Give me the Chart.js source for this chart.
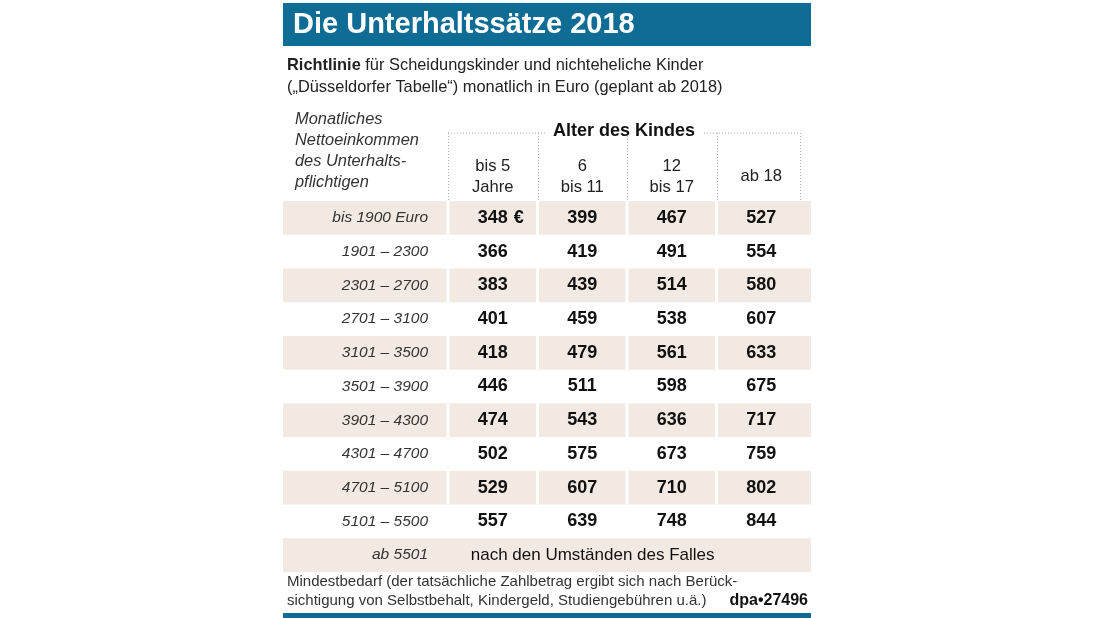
<!DOCTYPE html>
<html>
<head>
<meta charset="utf-8">
<script src="https://cdn.jsdelivr.net/npm/chart.js@4/dist/chart.umd.min.js"></script>
<style>
  html, body { margin: 0; padding: 0; background: #fff; }
  canvas { display: block; }
</style>
</head>
<body>
<canvas id="myChart" width="1098" height="618"></canvas>
<script>
// Zeilen (Nettoeinkommen) und Spalten (Alter des Kindes)
const rowLabels = ['bis 1900 Euro', '1901 – 2300', '2301 – 2700', '2701 – 3100', '3101 – 3500',
    '3501 – 3900', '3901 – 4300', '4301 – 4700', '4701 – 5100', '5101 – 5500', 'ab 5501'];
const colKeys = ['bis5', '6-11', '12-17', 'ab18'];
const colLabels = [['bis 5', 'Jahre'], ['6', 'bis 11'], ['12', 'bis 17'], ['ab 18']];

// Unterhaltssätze in Euro
const bis5 = [348, 366, 383, 401, 418, 446, 474, 502, 529, 557];
const bis11 = [399, 419, 439, 459, 479, 511, 543, 575, 607, 639];
const bis17 = [467, 491, 514, 538, 561, 598, 636, 673, 710, 748];
const ab18 = [527, 554, 580, 607, 633, 675, 717, 759, 802, 844];
const lastRowNote = 'nach den Umständen des Falles';

const FONT = '"Liberation Sans", Arial, Helvetica, sans-serif';
const BLUE = '#0f6d95';
const STRIPE = '#f2e9e2';

function toPoints(values, col) {
    return values.map((v, i) => ({ x: col, y: rowLabels[i], v: v }));
}

const tablePlugin = {
    id: 'tablePlugin',
    beforeDraw(chart) {
        const ctx = chart.ctx;
        const xs = chart.scales.x;
        const ys = chart.scales.y;
        const area = chart.chartArea;
        const band = (area.bottom - area.top) / rowLabels.length;
        const colW = (area.right - area.left) / colKeys.length;
        ctx.save();

        // Titelbalken
        ctx.fillStyle = BLUE;
        ctx.fillRect(283, 3, 528, 43);
        ctx.fillStyle = '#fff';
        ctx.font = 'bold 29px ' + FONT;
        ctx.textBaseline = 'middle';
        ctx.textAlign = 'left';
        ctx.fillText('Die Unterhaltssätze 2018', 293, 25);

        // Unterzeile
        ctx.fillStyle = '#222';
        ctx.font = 'bold 16.4px ' + FONT;
        ctx.fillText('Richtlinie', 287, 65);
        const w = ctx.measureText('Richtlinie').width;
        ctx.font = '16.4px ' + FONT;
        ctx.fillText(' für Scheidungskinder und nichteheliche Kinder', 287 + w, 65);
        ctx.fillText('(„Düsseldorfer Tabelle“) monatlich in Euro (geplant ab 2018)', 287, 87);

        // Kopf links
        ctx.fillStyle = '#333';
        ctx.font = 'italic 16.4px ' + FONT;
        ['Monatliches', 'Nettoeinkommen', 'des Unterhalts-', 'pflichtigen'].forEach((t, i) => {
            ctx.fillText(t, 295, 119 + i * 21);
        });

        // Streifen
        rowLabels.forEach((r, i) => {
            if (i % 2 !== 0) return;
            const yc = ys.getPixelForValue(i);
            ctx.fillStyle = STRIPE;
            ctx.fillRect(283, yc - band / 2, 528, band);
            if (i < rowLabels.length - 1) {
                ctx.fillStyle = '#fff';
                for (let k = 0; k < colKeys.length; k++) {
                    const xb = xs.getPixelForValue(k) - colW / 2;
                    ctx.fillRect(xb - 1.5, yc - band / 2, 3, band);
                }
            }
        });

        // gepunkteter Rahmen
        const topY = 133;
        ctx.strokeStyle = '#aaa';
        ctx.lineWidth = 1;
        ctx.setLineDash([1, 2]);
        ctx.beginPath();
        ctx.moveTo(area.left, topY); ctx.lineTo(546, topY);
        ctx.moveTo(704, topY); ctx.lineTo(area.right - 6, topY);
        for (let k = 0; k <= colKeys.length; k++) {
            let xb = area.left + k * colW;
            if (k === colKeys.length) xb -= 6;
            ctx.moveTo(Math.round(xb) + 0.5, topY);
            ctx.lineTo(Math.round(xb) + 0.5, area.top);
        }
        ctx.stroke();
        ctx.setLineDash([]);

        ctx.fillStyle = '#111';
        ctx.font = 'bold 18px ' + FONT;
        ctx.textAlign = 'center';
        ctx.fillText('Alter des Kindes', 624, 131);

        // Spaltenköpfe
        ctx.fillStyle = '#222';
        ctx.font = '16.6px ' + FONT;
        colLabels.forEach((lines, k) => {
            const xc = xs.getPixelForValue(k);
            if (lines.length === 1) {
                ctx.fillText(lines[0], xc, 176);
            } else {
                lines.forEach((t, j) => ctx.fillText(t, xc, 166 + j * 21));
            }
        });

        // Fußzeile
        ctx.textAlign = 'left';
        ctx.fillStyle = '#333';
        ctx.font = '15px ' + FONT;
        ctx.fillText('Mindestbedarf (der tatsächliche Zahlbetrag ergibt sich nach Berück-', 287, 582);
        ctx.fillText('sichtigung von Selbstbehalt, Kindergeld, Studiengebühren u.ä.)', 287, 601);
        ctx.textAlign = 'right';
        ctx.fillStyle = '#111';
        ctx.font = 'bold 16px ' + FONT;
        ctx.fillText('dpa•27496', 808, 601);
        ctx.fillStyle = BLUE;
        ctx.fillRect(283, 613, 528, 5);
        ctx.restore();
    },
    afterDatasetsDraw(chart) {
        const ctx = chart.ctx;
        ctx.save();
        ctx.textBaseline = 'middle';
        chart.data.datasets.forEach((ds, di) => {
            const meta = chart.getDatasetMeta(di);
            meta.data.forEach((el, i) => {
                const p = ds.data[i];
                ctx.fillStyle = '#111';
                if (typeof p.v === 'string') {
                    ctx.font = '17px ' + FONT;
                    ctx.textAlign = 'left';
                    ctx.fillText(p.v, el.x - 22, el.y);
                    return;
                }
                ctx.font = 'bold 18px ' + FONT;
                ctx.textAlign = 'center';
                ctx.fillText(String(p.v), el.x, el.y);
                if (di === 0 && i === 0) {
                    const half = ctx.measureText(String(p.v)).width / 2;
                    ctx.textAlign = 'left';
                    ctx.fillText(' €', el.x + half + 1, el.y);
                }
            });
        });
        ctx.restore();
    }
};

const pointStyle = { pointRadius: 0, pointHoverRadius: 0, showLine: false };

const config = {
    type: 'scatter',
    data: {
        datasets: [
            { label: 'bis 5 Jahre', data: toPoints(bis5, colKeys[0]), ...pointStyle },
            { label: '6 bis 11', data: toPoints(bis11, colKeys[1]), ...pointStyle },
            { label: '12 bis 17', data: toPoints(bis17, colKeys[2]), ...pointStyle },
            { label: 'ab 18', data: toPoints(ab18, colKeys[3]), ...pointStyle },
            { label: 'ab 5501', data: [{ x: colKeys[0], y: rowLabels[10], v: lastRowNote }], ...pointStyle }
        ]
    },
    options: {
        responsive: false,
        animation: false,
        devicePixelRatio: 1,
        layout: { padding: { left: 0, right: 292, top: 201, bottom: 46 } },
        parsing: { xAxisKey: 'x', yAxisKey: 'y' },
        scales: {
            x: {
                type: 'category',
                labels: colKeys,
                offset: true,
                display: false
            },
            y: {
                type: 'category',
                labels: rowLabels,
                offset: true,
                grid: { display: false, drawTicks: false },
                border: { display: false },
                ticks: {
                    padding: 20,
                    color: '#333',
                    font: { family: FONT, size: 15.5, style: 'italic' }
                },
                afterFit: (scale) => { scale.width = 448; }
            }
        },
        plugins: {
            legend: { display: false },
            tooltip: { enabled: false }
        }
    },
    plugins: [tablePlugin]
};

const ctx = document.getElementById('myChart').getContext('2d');
window.myChart = new Chart(ctx, config);
</script>
</body>
</html>
